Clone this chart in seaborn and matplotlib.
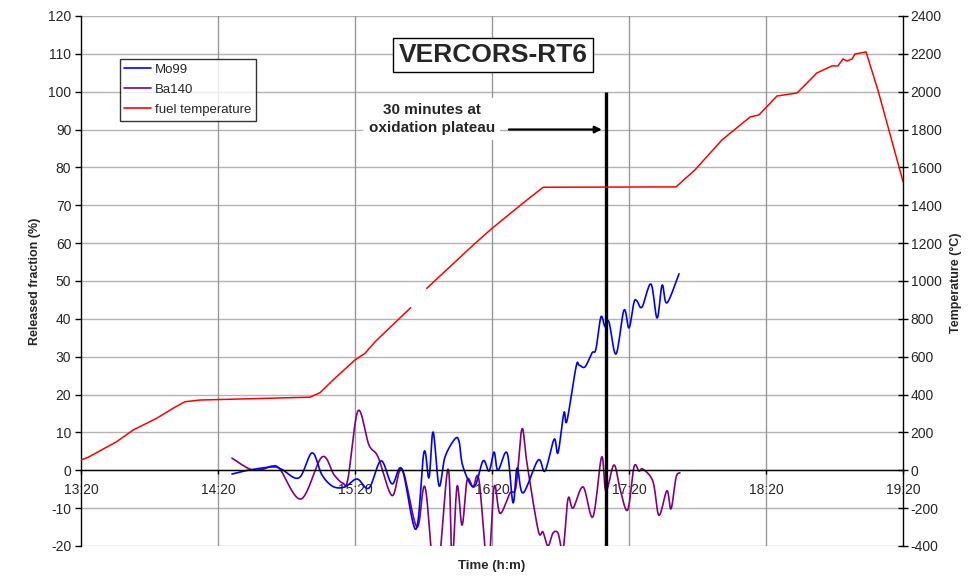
import matplotlib
matplotlib.use("Agg")
import matplotlib.pyplot as plt
from matplotlib.lines import Line2D
import numpy as np
import pandas as pd
import seaborn as sns

# time is in minutes after 13:20
time_ticks = [0, 60, 120, 180, 240, 300, 360]
time_labels = ["13:20", "14:20", "15:20", "16:20", "17:20", "18:20", "19:20"]

mo99_t = [66.1, 73.1, 84.1, 88.0, 95.5, 101.2, 105.5, 110.4, 115.6, 120.9,
          126.1, 131.4, 136.2, 140.6, 146.7, 150.2, 152.4, 154.2, 156.8, 159.4,
          163.8, 165.6, 167.3, 172.1, 176.1, 178.7, 180.9, 182.6, 186.6, 189.2,
          191.0, 193.6, 200.2, 203.2, 207.2, 208.9, 211.5, 212.8, 216.8, 218.1,
          220.7, 223.8, 225.5, 227.7, 229.5, 231.2, 234.3, 237.8, 240.0, 242.2,
          243.5, 245.7, 249.6, 252.3, 254.5, 256.6, 261.9]
mo99_v = [-1.0, 0.0, 0.9, 0.2, -2.0, 4.6, -1.2, -4.3, -4.4, -2.3,
          -4.7, 2.5, -3.6, 0.3, -15.6, 4.8, -2.0, 10.1, -4.1, 3.5,
          8.3, 7.5, 0.9, -4.4, 2.5, -0.2, 4.8, 0.0, 4.6, -8.6,
          0.6, -6.0, 2.7, -0.2, 8.2, 4.6, 15.2, 13.0, 27.3, 27.8,
          27.3, 31.0, 32.0, 40.5, 37.9, 39.2, 30.7, 42.3, 37.6, 44.4,
          44.7, 43.1, 49.2, 40.2, 48.9, 44.2, 51.9]

ba140_t = [66.1, 74.0, 79.3, 83.7, 87.2, 96.4, 105.5, 110.8, 114.7, 116.9,
           121.3, 126.1, 130.1, 136.2, 140.6, 147.1, 150.7, 155.5, 160.7, 162.5,
           164.7, 166.9, 169.1, 171.7, 174.3, 178.2, 180.9, 183.5, 187.9, 190.5,
           193.1, 195.3, 200.2, 202.3, 204.5, 206.7, 208.9, 211.1, 213.3, 215.5,
           219.9, 224.2, 228.0, 229.9, 233.4, 236.1, 239.4, 242.2, 244.4, 246.1,
           250.5, 253.1, 256.6, 258.4, 260.6, 262.3]
ba140_v = [3.2, 0.3, 0.2, 1.1, 0.2, -7.6, 3.5, -1.2, -3.4, -2.3,
           15.7, 6.7, 3.5, -6.7, 0.3, -15.0, -4.5, -30.0, 0.3, -24.0,
           -4.2, -14.5, -2.6, -4.4, -2.6, -26.0, -4.4, -11.4, -6.0, -4.4,
           10.9, 1.9, -15.8, -16.3, -20.0, -16.6, -16.6, -21.0, -7.5, -10.0,
           -4.4, -12.3, 3.5, -5.5, 1.4, -5.0, -10.5, 0.9, -0.2, 0.3,
           -3.0, -11.9, -5.4, -10.2, -1.9, -0.7]

# fuel temperature (deg C), NaN marks the gap in the record
temp_t = [0.0, 3.2, 15.6, 22.9, 33.2, 40.4, 45.5, 52.1, 100.3, 104.7,
          110.4, 120.0, 124.4, 128.8, 144.4, 148.0, 151.4, 172.6, 180.0, 195.3,
          202.4, 260.6, 268.9, 280.7, 293.0, 296.9, 304.8, 313.6, 322.3, 328.9,
          331.5, 333.7, 335.5, 337.7, 339.0, 343.8, 349.0, 360.0]
temp_c = [54, 69, 151, 213, 275, 328, 362, 371, 386, 410,
          477, 583, 618, 679, 859, np.nan, 961, 1199, 1278, 1428,
          1495, 1497, 1587, 1745, 1866, 1877, 1977, 1993, 2099, 2136,
          2136, 2173, 2162, 2173, 2199, 2210, 2009, 1525]

plateau_end = 230  # 17:10
plateau_top = 100


def smooth(t, v, sx, sy, steps=12):
    """Catmull-Rom smoothing like Excel's 'smoothed line' option."""
    p = np.column_stack([np.asarray(t, float) * sx, np.asarray(v, float) * sy])
    p = np.vstack([p[0], p, p[-1]])
    s = np.linspace(0, 1, steps, endpoint=False)[:, None]
    h00 = 2 * s**3 - 3 * s**2 + 1
    h10 = s**3 - 2 * s**2 + s
    h01 = -2 * s**3 + 3 * s**2
    h11 = s**3 - s**2
    out = []
    for i in range(1, len(p) - 2):
        m1 = (p[i + 1] - p[i - 1]) / 2
        m2 = (p[i + 2] - p[i]) / 2
        out.append(h00 * p[i] + h10 * m1 + h01 * p[i + 1] + h11 * m2)
    out.append(p[-2][None, :])
    out = np.vstack(out)
    return out[:, 0] / sx, out[:, 1] / sy


sns.set_theme(style="white")
plt.rcParams['font.family'] = ['Liberation Sans', 'DejaVu Sans']
plt.rcParams['axes.unicode_minus'] = False

fig = plt.figure(figsize=(9.69, 5.78), dpi=100)
ax = fig.add_axes([0.0836, 0.0554, 0.8483, 0.9170])
ax2 = ax.twinx()

blue, purple, red = "#0000ff", "#800080", "#ff0000"

mx, my = smooth(mo99_t, mo99_v, 2.283, 3.786)
bx, by = smooth(ba140_t, ba140_v, 2.283, 3.786)
mo = pd.DataFrame({"t": mx, "v": my})
ba = pd.DataFrame({"t": bx, "v": by})
sns.lineplot(data=ba, x="t", y="v", sort=False, estimator=None, color=purple, lw=1.2, ax=ax)
sns.lineplot(data=mo, x="t", y="v", sort=False, estimator=None, color=blue, lw=1.2, ax=ax)

temp = pd.DataFrame({"t": temp_t, "c": temp_c})
temp["seg"] = temp["c"].isna().cumsum()
temp = temp.dropna()
sns.lineplot(data=temp, x="t", y="c", units="seg", estimator=None, sort=False,
             color=red, lw=1.1, ax=ax2)

# axes limits and ticks
ax.set_xlim(0, 360)
ax.set_ylim(-20, 120)
ax2.set_ylim(-400, 2400)
ax.set_xticks(time_ticks)
ax.set_xticklabels(time_labels)
ax.set_yticks(np.arange(-20, 121, 10))
ax2.set_yticks(np.arange(-400, 2401, 200))
ax.set_xlabel("")
ax.set_ylabel("")
ax2.set_ylabel("")

ax.grid(False)
for y in np.arange(-20, 121, 10):
    ax.axhline(y, color="#b3b3b3", lw=1.0, zorder=0)
for x in time_ticks[1:-1]:
    ax.axvline(x, color="#999999", lw=1.0, zorder=0)

ax.spines['bottom'].set_position(('data', 0))
ax.spines['top'].set_visible(False)
ax.spines['right'].set_visible(False)
for side in ['top', 'bottom', 'left']:
    ax2.spines[side].set_visible(False)
for sp in [ax.spines['bottom'], ax.spines['left'], ax2.spines['right']]:
    sp.set_color("black")
    sp.set_linewidth(1.0)

ax.tick_params(axis='x', direction='out', length=3, width=1, color='black',
               labelsize=10, pad=6, bottom=True)
ax.tick_params(axis='y', direction='out', length=4, width=1, color='black',
               labelsize=10, pad=3, left=True)
ax2.tick_params(axis='y', direction='inout', length=7, width=1, color='black',
                labelsize=10, pad=2, right=True)

# plateau marker and annotation
ax.vlines(plateau_end, -20, plateau_top, color="black", lw=2.4, zorder=5)
ax.annotate("", xy=(plateau_end - 0.7, 90), xytext=(186.2, 90),
            arrowprops=dict(arrowstyle="-|>", color="black", lw=1.6, mutation_scale=10),
            zorder=6)
ax.text(153.7, 92.8, "30 minutes at\noxidation plateau", ha="center", va="center",
        fontsize=11, fontweight="bold", linespacing=1.3, zorder=6,
        bbox=dict(boxstyle="square,pad=0.35", facecolor="white", edgecolor="none"))

ax2.text(0.501, 0.926, "VERCORS-RT6", transform=ax.transAxes, ha="center", va="center",
         fontsize=19, fontweight="bold", zorder=10,
         bbox=dict(boxstyle="square,pad=0.2", facecolor="white", edgecolor="black", lw=1.0))

handles = [Line2D([], [], color=blue, lw=1.2),
           Line2D([], [], color=purple, lw=1.2),
           Line2D([], [], color=red, lw=1.2)]
leg = ax2.legend(handles, ["Mo99", "Ba140", "fuel temperature"], loc="upper left",
                 bbox_to_anchor=(0.047, 0.919), bbox_transform=ax.transAxes,
                 borderaxespad=0, fontsize=9.5, frameon=True, fancybox=False,
                 handlelength=2.0, handletextpad=0.3, labelspacing=0.6, borderpad=0.35)
leg.get_frame().set_edgecolor("black")
leg.get_frame().set_linewidth(1.0)
leg.set_zorder(20)

fig.text(35 / 969, 1 - 281 / 578, "Released fraction (%)", rotation=90, ha="center",
         va="center", fontsize=9, fontweight="bold")
fig.text(956 / 969, 1 - 283 / 578, "Temperature (°C)", rotation=90, ha="center",
         va="center", fontsize=9, fontweight="bold")
fig.text(492 / 969, 1 - 566 / 578, "Time (h:m)", ha="center", va="center",
         fontsize=9.5, fontweight="bold")

fig.savefig("out.png", dpi=100)
